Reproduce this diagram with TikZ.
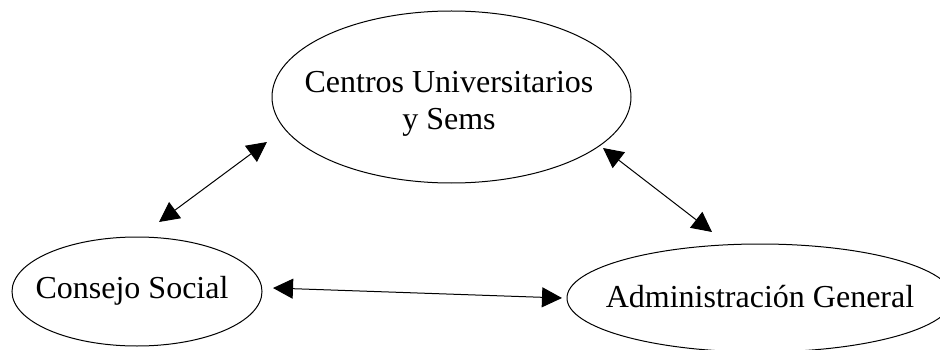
\documentclass[tikz,border=0pt]{standalone}
\usepackage{fontspec}
\setmainfont{Liberation Serif}
\usetikzlibrary{shapes.geometric,arrows.meta}
\begin{document}
\begin{tikzpicture}[x=1pt,y=-1pt,
  oval/.style={draw=black,line width=1pt,ellipse,inner sep=0pt},
  lbl/.style={font=\fontsize{32}{37}\selectfont,align=center,inner sep=0pt},
  link/.style={line width=1pt,{Triangle[length=20pt,width=20pt]}-{Triangle[length=20pt,width=20pt]}}]
\useasboundingbox (0,0) rectangle (940,350);
\begin{scope}
\clip (0,0) rectangle (940,350);
\node[oval,minimum width=359pt,minimum height=172pt] (cu) at (451.5,97) {};
\node[oval,minimum width=250pt,minimum height=109pt] (cs) at (137,291.5) {};
\node[oval,minimum width=386pt,minimum height=108pt] (ag) at (760,298) {};
\end{scope}
\node[lbl] (cut) at (449,104) {Centros Universitarios\\y Sems};
\node[lbl,anchor=base] (cst) at (132,298) {Consejo Social};
\node[lbl,anchor=base] (agt) at (760,307) {Administración General};
\coordinate (a1s) at (159,222);
\coordinate (a1e) at (267,142);
\coordinate (a2s) at (603,148);
\coordinate (a2e) at (712,232);
\coordinate (a3s) at (273,288);
\coordinate (a3e) at (562,298);
\draw[link] (a1s) -- (a1e);
\draw[link] (a2s) -- (a2e);
\draw[link] (a3s) -- (a3e);
\end{tikzpicture}
\end{document}
